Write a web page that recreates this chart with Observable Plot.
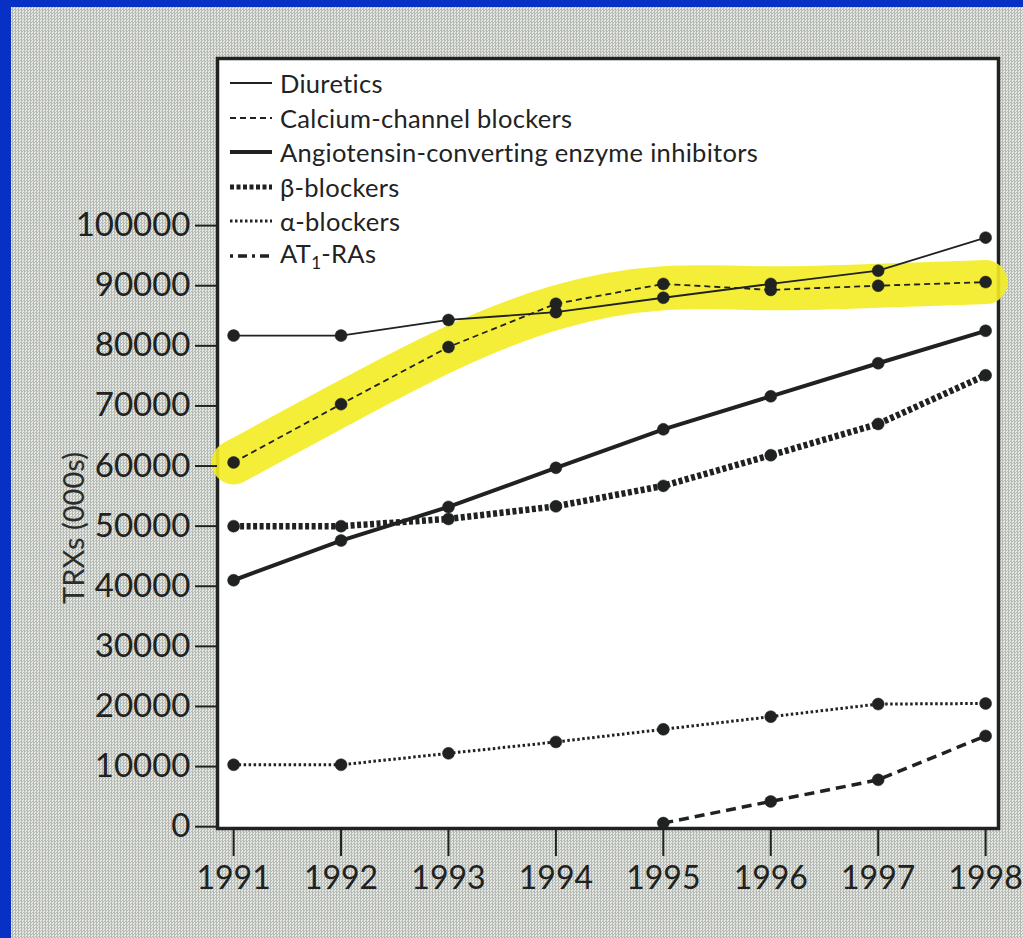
<!DOCTYPE html>
<html>
<head>
<meta charset="utf-8">
<script src="https://cdn.jsdelivr.net/npm/d3@7"></script>
<script src="https://cdn.jsdelivr.net/npm/@observablehq/plot@0.6"></script>
<style>
  html, body { margin: 0; padding: 0; background: #0631c4; }
  #outer { position: relative; width: 1023px; height: 938px; background: #0631c4; overflow: hidden; }
  #inner { position: absolute; left: 11px; top: 7px; width: 1012px; height: 931px;
    background: repeating-conic-gradient(#b5bab6 0 25%, #e6e8e2 0 50%) 0 0 / 3px 3px; }
  #legend { position: absolute; left: 229px; top: 66px; font-family: Lato, "Open Sans", sans-serif;
    font-size: 25.5px; color: #222; letter-spacing: 0.3px; }
  #legend .row { height: 34.5px; display: flex; align-items: center; white-space: nowrap; }
  #legend svg { margin-right: 7px; }
  #ylabel { position: absolute; left: 72px; top: 528px; transform: translate(-50%, -50%) rotate(-90deg);
    font-family: Lato, "Open Sans", sans-serif; font-size: 29px; color: #2a2d2b; white-space: nowrap; }
</style>
</head>
<body>
<div id="outer"><div id="inner"></div><div id="legend"></div><div id="ylabel">TRXs (000s)</div></div>
<script>
const years = [1991, 1992, 1993, 1994, 1995, 1996, 1997, 1998];
const diuretics = [81700, 81700, 84300, 85600, 88000, 90300, 92500, 98000];
const calciumChannelBlockers = [60600, 70300, 79800, 87000, 90300, 89300, 90000, 90600];
const aceInhibitors = [41000, 47600, 53200, 59700, 66100, 71600, 77100, 82500];
const betaBlockers = [50000, 50000, 51200, 53300, 56700, 61800, 67000, 75100];
const alphaBlockers = [10300, 10300, 12200, 14100, 16200, 18300, 20400, 20500];
const at1RAs = [null, null, null, null, 600, 4200, 7800, 15100];
const yTicks = [0, 10000, 20000, 30000, 40000, 50000, 60000, 70000, 80000, 90000, 100000];

const seriesNames = ["Diuretics", "Calcium-channel blockers", "Angiotensin-converting enzyme inhibitors", "β-blockers", "α-blockers", "AT1-RAs"];
const seriesValues = [diuretics, calciumChannelBlockers, aceInhibitors, betaBlockers, alphaBlockers, at1RAs];
const seriesStyles = [
  {strokeWidth: 1.8, dash: null},
  {strokeWidth: 1.8, dash: "6,4"},
  {strokeWidth: 4, dash: null},
  {strokeWidth: 6.5, dash: "4,2.5"},
  {strokeWidth: 3, dash: "2.5,2.5"},
  {strokeWidth: 3.5, dash: "10,6"}
];

const ink = "#1f2220";
const rows = (vals) => years.map((y, i) => ({year: y, value: vals[i]})).filter(d => d.value != null);

const marks = [
  Plot.frame({fill: "white", stroke: ink, strokeWidth: 3.5}),
  Plot.line(rows(calciumChannelBlockers), {x: "year", y: "value", stroke: "#f4ec22", strokeOpacity: 0.9,
    strokeWidth: 44, curve: "basis", strokeLinecap: "round"}),
];
seriesValues.forEach((vals, i) => {
  const s = seriesStyles[i];
  marks.push(Plot.line(rows(vals), {x: "year", y: "value", stroke: ink, strokeWidth: s.strokeWidth,
    strokeDasharray: s.dash, strokeLinecap: "butt"}));
});
seriesValues.forEach((vals) => {
  marks.push(Plot.dot(rows(vals), {x: "year", y: "value", r: 6, fill: ink, stroke: ink, strokeWidth: 0.5}));
});
marks.push(
  Plot.axisY({ticks: yTicks, tickSize: 22, tickPadding: 5, strokeWidth: 2, tickFormat: d => String(d),
    label: null, fontSize: 33}),
  Plot.axisX({ticks: years, tickSize: 28, tickPadding: 10, strokeWidth: 2, tickFormat: d => String(d),
    label: null, fontSize: 32})
);

const chart = Plot.plot({
  width: 1012,
  height: 931,
  marginLeft: 206,
  marginRight: 25,
  marginTop: 51,
  marginBottom: 110,
  x: {domain: [1990.85, 1998.12]},
  y: {domain: [-300, 127800]},
  style: {background: "transparent", fontFamily: "Lato, 'Open Sans', sans-serif", fontSize: "32px", color: ink},
  marks
});
document.getElementById("inner").appendChild(chart);

// Legend inside the frame, top-left
const legend = document.getElementById("legend");
seriesNames.forEach((name, i) => {
  const s = seriesStyles[i];
  const row = document.createElement("div");
  row.className = "row";
  const ns = "http://www.w3.org/2000/svg";
  const svg = document.createElementNS(ns, "svg");
  svg.setAttribute("width", 44); svg.setAttribute("height", 12);
  const ln = document.createElementNS(ns, "line");
  ln.setAttribute("x1", 1); ln.setAttribute("x2", 43); ln.setAttribute("y1", 6); ln.setAttribute("y2", 6);
  ln.setAttribute("stroke", ink);
  ln.setAttribute("stroke-width", i === 3 ? 5 : s.strokeWidth);
  if (s.dash) ln.setAttribute("stroke-dasharray", i === 5 ? "3,5,9,5" : s.dash);
  svg.appendChild(ln);
  row.appendChild(svg);
  const label = document.createElement("span");
  if (name === "AT1-RAs") {
    label.innerHTML = "AT<sub style='font-size:17px;vertical-align:-6px'>1</sub>-RAs";
  } else {
    label.textContent = name;
  }
  row.appendChild(label);
  legend.appendChild(row);
});
</script>
</body>
</html>
